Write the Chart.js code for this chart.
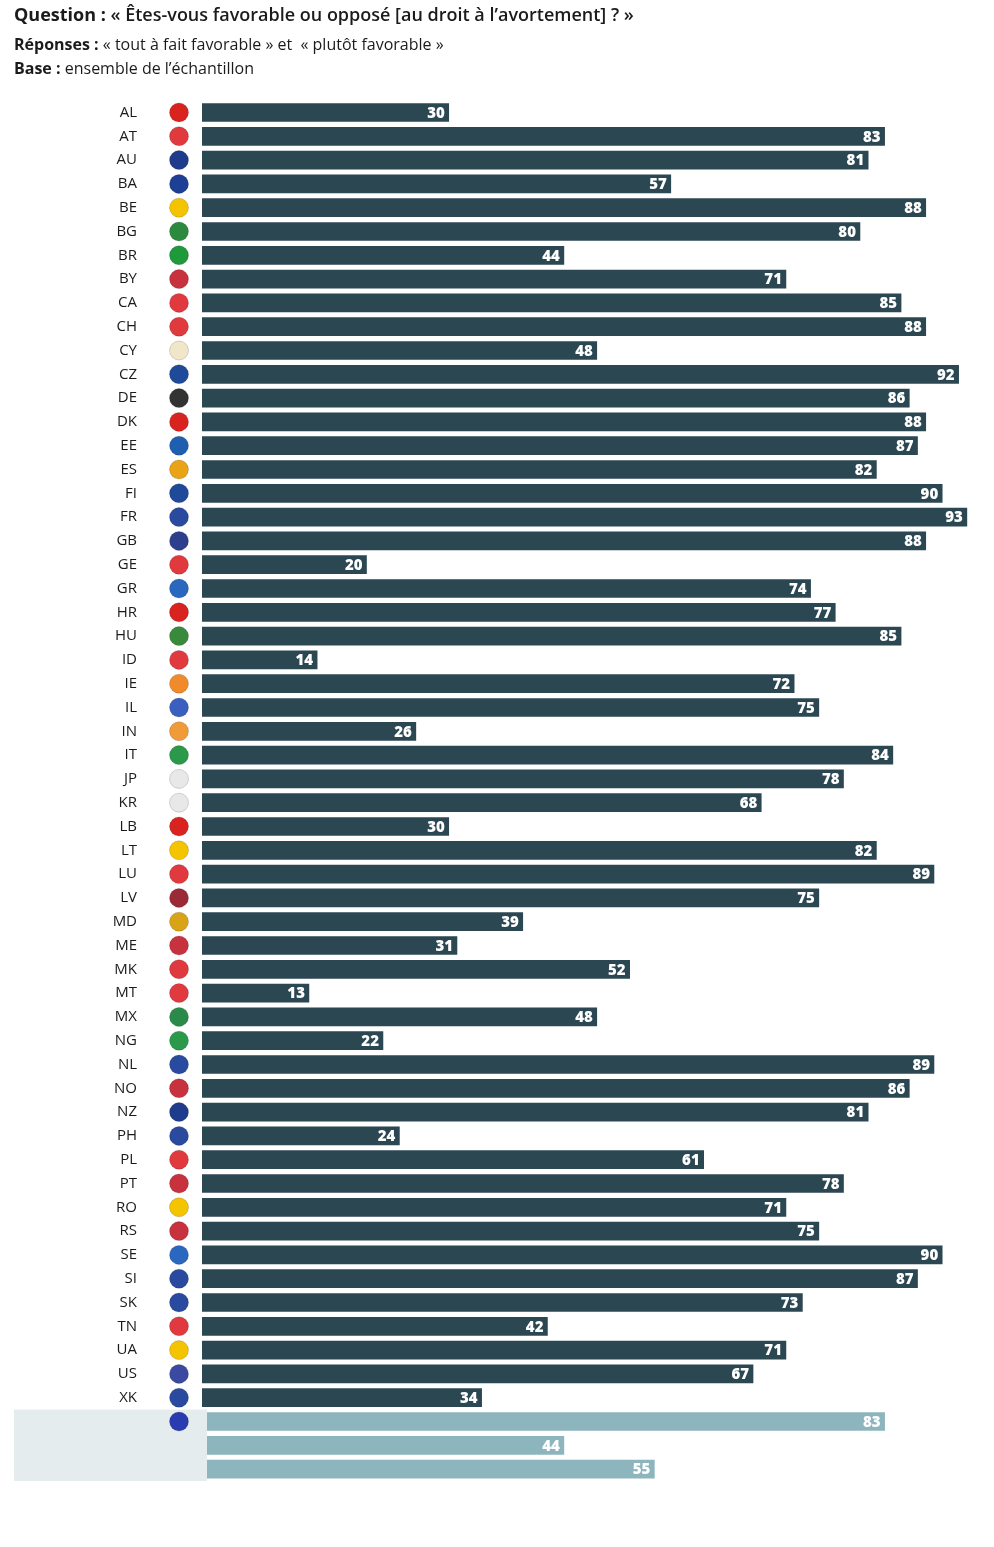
<!DOCTYPE html>
<html>
<head>
<meta charset="utf-8">
<script src="https://cdn.jsdelivr.net/npm/chart.js@4"></script>
<style>
  body { margin: 0; background: #fff; font-family: "Open Sans", sans-serif; color: #1b1b1b; }
  #wrap { position: relative; width: 994px; height: 1547px; }
  canvas { position: absolute; left: 0; top: 0; }
  .h { position: absolute; left: 14px; white-space: nowrap; }
  b { font-weight: 700; }
</style>
</head>
<body>
<div id="wrap">
  <canvas id="chart" width="994" height="1547"></canvas>
  <div class="h" style="top:2px;font-size:18px;font-weight:600"><b>Question :</b> « Êtes-vous favorable ou opposé [au droit à l’avortement] ? »</div>
  <div class="h" style="top:33px;font-size:16px"><b>Réponses :</b> « tout à fait favorable » et&nbsp; « plutôt favorable »</div>
  <div class="h" style="top:57px;font-size:16px"><b>Base :</b> ensemble de l’échantillon</div>
</div>
<script>
const countries = ["AL","AT","AU","BA","BE","BG","BR","BY","CA","CH","CY","CZ","DE","DK","EE","ES","FI","FR","GB","GE","GR","HR","HU","ID","IE","IL","IN","IT","JP","KR","LB","LT","LU","LV","MD","ME","MK","MT","MX","NG","NL","NO","NZ","PH","PL","PT","RO","RS","SE","SI","SK","TN","UA","US","XK"];
const countryValues = [30,83,81,57,88,80,44,71,85,88,48,92,86,88,87,82,90,93,88,20,74,77,85,14,72,75,26,84,78,68,30,82,89,75,39,31,52,13,48,22,89,86,81,24,61,78,71,75,90,87,73,42,71,67,34];
const aggregates = ["EU","Global avec Inde","Global sans Inde"];
const aggregateValues = [83,44,55];

// rough main colour of each flag (drawn as a plain disc)
const flagColors = ["#d8231f","#e03a3e","#1f3b8c","#1d3f94","#f5c400","#2b8a3e","#1f9a3a","#c8313e","#e03a3e","#e03a3e","#f0e6c8","#1f4a9a","#333333","#d8231f","#1f5fb0","#e8a317","#1f4a9a","#2a4aa0","#2b3f8c","#e03a3e","#2a68c0","#d8231f","#3a8a3e","#e03a3e","#f08a2a","#3a5fc0","#f09a3a","#2a9a4a","#e8e8e8","#e8e8e8","#d8231f","#f5c400","#e03a3e","#9a2a35","#d8a317","#c8313e","#e03a3e","#e03a3e","#2a8a4a","#2a9a4a","#2a4aa0","#c8313e","#1f3b8c","#2a4aa0","#e03a3e","#c8313e","#f5c400","#c8313e","#2a68c0","#2a4aa0","#2a4aa0","#e03a3e","#f5c400","#3a4aa0","#2a4aa0","#2a3ab0"];

const labels = countries.concat(aggregates);
const values = countryValues.concat(aggregateValues);
const colors = labels.map((l, i) => i < countries.length ? "#2b4752" : "#8db5bd");

const decor = {
  id: "decor",
  afterDatasetsDraw(chart) {
    const ctx = chart.ctx, y = chart.scales.y;
    const n = countries.length;
    const half = (y.getPixelForValue(1) - y.getPixelForValue(0)) / 2;
    // shaded band behind aggregates
    const top = y.getPixelForValue(n) - half, bot = y.getPixelForValue(labels.length - 1) + half;
    ctx.save();
    ctx.fillStyle = "#e4ecee";
    ctx.fillRect(14, top, 193, bot - top);
    // flags
    for (let i = 0; i <= n; i++) {
      const cy = y.getPixelForValue(i);
      ctx.beginPath();
      ctx.arc(179, cy, 9.5, 0, Math.PI * 2);
      ctx.fillStyle = flagColors[i];
      ctx.fill();
      ctx.lineWidth = 1;
      ctx.strokeStyle = "rgba(0,0,0,0.15)";
      ctx.stroke();
    }
    // value labels
    const meta = chart.getDatasetMeta(0);
    ctx.font = "800 15px 'Open Sans'";
    ctx.fillStyle = "#fff";
    ctx.textAlign = "right";
    ctx.textBaseline = "middle";
    meta.data.forEach((bar, i) => ctx.fillText(values[i], bar.x - 4, bar.y + 1));
    ctx.restore();
  }
};

new Chart(document.getElementById("chart"), {
  type: "bar",
  data: { labels, datasets: [{ data: values, backgroundColor: colors, barThickness: 18 }] },
  options: {
    indexAxis: "y",
    responsive: false,
    animation: false,
    layout: { padding: { top: 100.6, bottom: 11.6, left: 0, right: 0 } },
    plugins: { legend: { display: false }, tooltip: { enabled: false } },
    scales: {
      x: { display: false, min: 0, max: 96.3 },
      y: {
        grid: { display: false },
        border: { display: false },
        afterFit(s) { s.width = 202; },
        ticks: {
          padding: 57,
          color: "#1b1b1b",
          font: (c) => c.index < countries.length
            ? { family: "Open Sans", size: 15 }
            : { family: "Open Sans", size: 14, weight: "600" }
        }
      }
    }
  },
  plugins: [decor]
});
</script>
</body>
</html>
